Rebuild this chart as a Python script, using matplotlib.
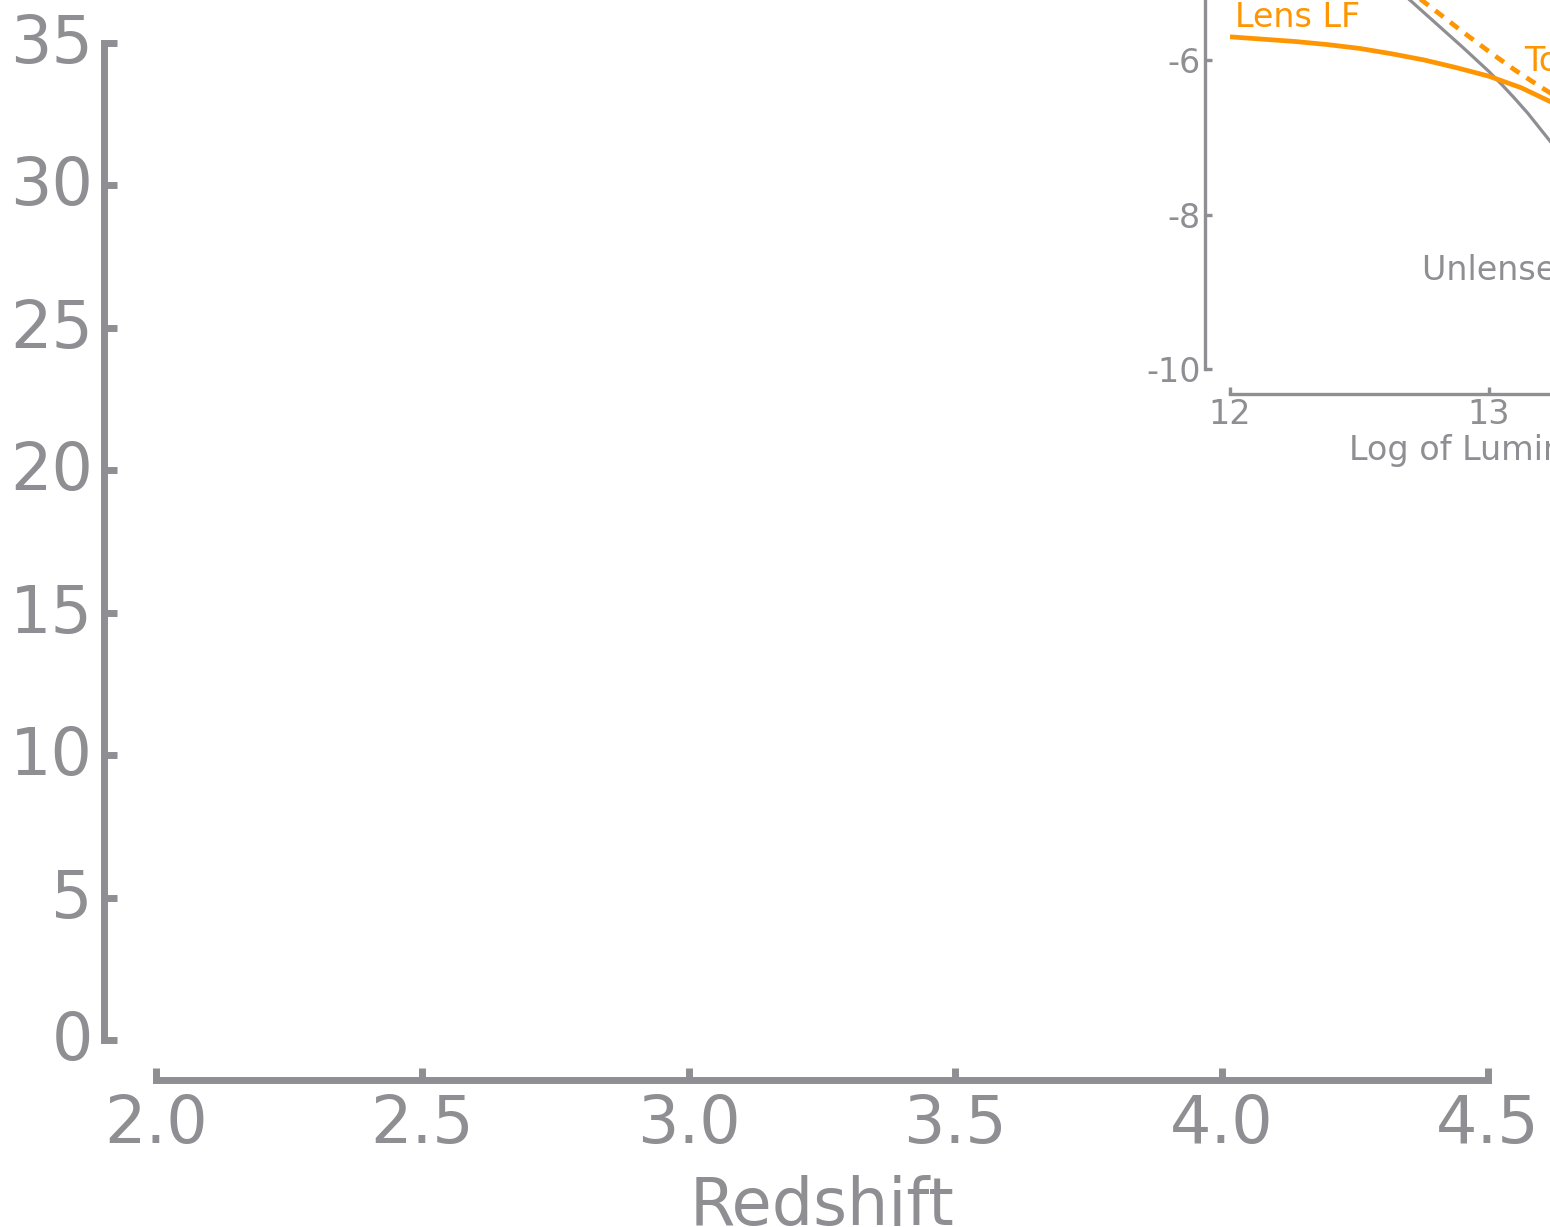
import matplotlib
matplotlib.use("Agg")
import matplotlib.pyplot as plt
from matplotlib.transforms import ScaledTranslation

plt.rcParams["font.family"] = ["DejaVu Sans"]
plt.rcParams["axes.unicode_minus"] = False

GRAY = "#8E8E93"
ORANGE = "#FF9500"

# Main panel axes
redshift_ticks = [2.0, 2.5, 3.0, 3.5, 4.0, 4.5]
count_ticks = [0, 5, 10, 15, 20, 25, 30, 35]

# Inset: luminosity functions (log L vs log Phi)
lens_lf_x = [12.0, 12.125, 12.25, 12.375, 12.5, 12.625, 12.75, 12.875,
             13.0, 13.125, 13.25, 13.375, 13.5]
lens_lf_y = [-5.70, -5.73, -5.76, -5.80, -5.85, -5.92, -6.00, -6.10,
             -6.21, -6.36, -6.56, -6.78, -7.02]

unlensed_x = [12.4, 12.5, 12.6, 12.7, 12.8, 12.9, 13.0, 13.05, 13.1, 13.15,
              13.2, 13.25, 13.3, 13.4, 13.5]
unlensed_y = [-4.40, -4.67, -4.95, -5.24, -5.54, -5.84, -6.15, -6.32, -6.50,
              -6.69, -6.90, -7.11, -7.32, -7.78, -8.25]

total_x = [12.4, 12.5, 12.6, 12.7, 12.8, 12.9, 13.0, 13.1, 13.2, 13.3,
           13.4, 13.5]
total_y = [-4.32, -4.58, -4.85, -5.12, -5.38, -5.64, -5.89, -6.13, -6.35,
           -6.56, -6.77, -6.98]

inset_xticks = [12, 13, 14]
inset_yticks = [-10, -8, -6, -4]

W, H = 1550, 1227
fig = plt.figure(figsize=(W / 100, H / 100), dpi=100)

ax = fig.add_axes([156 / W, 187 / H, 1332 / W, 997 / H])
ax.set_xlim(2.0, 4.5)
ax.set_ylim(0, 35)
for s in ("top", "right"):
    ax.spines[s].set_visible(False)
ax.spines["left"].set_position(("outward", 37.4))
ax.spines["bottom"].set_position(("outward", 28.8))
for s in ("left", "bottom"):
    ax.spines[s].set_color(GRAY)
    ax.spines[s].set_linewidth(5)
ax.set_xticks(redshift_ticks)
ax.set_xticklabels([f"{v:.1f}" for v in redshift_ticks])
ax.set_yticks(count_ticks)
ax.tick_params(direction="in", length=9, width=5, color=GRAY,
               labelcolor=GRAY, labelsize=47)
ax.tick_params(axis="x", pad=9)
ax.tick_params(axis="y", pad=8)
# nudge the count labels slightly upward
lift = ScaledTranslation(0, 5 / 100, fig.dpi_scale_trans)
for lbl in ax.get_yticklabels():
    lbl.set_transform(lbl.get_transform() + lift)
ax.set_xlabel("Redshift", color=GRAY, fontsize=47, labelpad=13)
ax.patch.set_alpha(0)

# Inset panel
iw = 2.5 * 259
ih = 7 * 77.25
ax2 = fig.add_axes([1230 / W, (H - 369) / H, iw / W, ih / H])
ax2.set_xlim(12, 14.5)
ax2.set_ylim(-10, -3)
ax2.patch.set_alpha(0)
for s in ("top", "right"):
    ax2.spines[s].set_visible(False)
for s in ("left", "bottom"):
    ax2.spines[s].set_position(("outward", 18))
    ax2.spines[s].set_color(GRAY)
    ax2.spines[s].set_linewidth(2.4)
ax2.set_xticks(inset_xticks)
ax2.set_yticks(inset_yticks)
ax2.set_yticklabels([f"{v}" for v in inset_yticks])
ax2.tick_params(direction="in", length=5, width=2.4, color=GRAY,
                labelcolor=GRAY, labelsize=24, pad=3)

ax2.plot(unlensed_x, unlensed_y, color=GRAY, lw=2.3, solid_capstyle="butt")
ax2.plot(total_x, total_y, color=ORANGE, lw=3.4, ls=(0, (2.2, 1.8)))
ax2.plot(lens_lf_x, lens_lf_y, color=ORANGE, lw=3.4, solid_capstyle="butt")

ax2.text(12.02, -5.57, "Lens LF", color=ORANGE, fontsize=24, va="baseline")
ax2.text(13.135, -6.14, "Total LF", color=ORANGE, fontsize=24, va="baseline")
ax2.text(12.741, -8.85, "Unlensed LF", color=GRAY, fontsize=24, va="baseline")

ax2.set_xlabel("Log of Luminosity", color=GRAY, fontsize=24, ha="left",
               va="baseline")
ax2.xaxis.set_label_coords(0.184, -0.168)

fig.savefig("out.png", dpi=100)
